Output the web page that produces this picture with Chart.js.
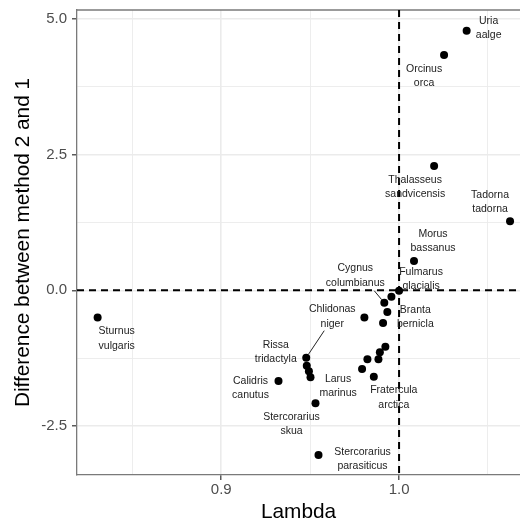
<!DOCTYPE html>
<html>
<head>
<meta charset="utf-8">
<title>Lambda vs difference between methods</title>
<script src="https://cdn.jsdelivr.net/npm/chart.js@4/dist/chart.umd.min.js"></script>
<style>
  html, body { margin: 0; padding: 0; background: #fff; }
  canvas { display: block; }
</style>
</head>
<body>
<canvas id="scatter" width="520" height="529"></canvas>
<script>
// Data ('' = point without a label)
var species = [
    'Uria aalge', 'Orcinus orca', 'Thalasseus sandvicensis', 'Tadorna tadorna',
    'Morus bassanus', 'Fulmarus glacialis', '', 'Cygnus columbianus',
    'Branta bernicla', '', '', '', '', '', '',
    'Larus marinus', 'Fratercula arctica', 'Chlidonas niger', 'Rissa tridactyla',
    '', '', 'Calidris canutus', 'Stercorarius skua', 'Sturnus vulgaris',
    'Stercorarius parasiticus'
];
var lambda = [
    1.038, 1.0253, 1.0197, 1.0624,
    1.0084, 1.0, 0.9957, 0.9917,
    0.9934, 0.9805, 0.991, 0.9923, 0.9892, 0.9822, 0.9884,
    0.9792, 0.9858, 0.9478, 0.9481,
    0.9493, 0.9502, 0.9322, 0.953, 0.8305,
    0.9547
];
var difference = [
    4.78, 4.33, 2.29, 1.27,
    0.54, -0.01, -0.12, -0.23,
    -0.40, -0.50, -0.60, -1.04, -1.14, -1.27, -1.27,
    -1.45, -1.59, -1.24, -1.39,
    -1.49, -1.60, -1.67, -2.08, -0.50,
    -3.03
];

// Axis ticks
var xTicks = [0.85, 0.9, 0.95, 1.0, 1.05];
var xMajor = [0.9, 1.0];
var yTicks = [-2.5, -1.25, 0, 1.25, 2.5, 3.75, 5.0];
var yMajor = [-2.5, 0, 2.5, 5.0];

// Reference lines
var refLambda = 1.0;
var refDiff = 0.0;

// Label placement (pixel offset of label centre from its point), and leader lines
var labelOffset = [
    [22, -2.5], [-20, 21], [-19, 21], [-20, -19.5],
    [19, -20], [22, -12], null, [-29, -27],
    [28, 5], null, null, null, null, null, null,
    [-24, 17], [20, 21], [26, -41], [-31, -14],
    null, null, [-28, 7], [-24, 21], [19, 21],
    [44, 4]
];
var leaderStart = { 7: [-10, -12], 17: [18, -27] };

function isIn(list, v) {
    for (var i = 0; i < list.length; i++) {
        if (Math.abs(list[i] - v) < 1e-6) return true;
    }
    return false;
}

var points = lambda.map(function (v, i) { return { x: v, y: difference[i] }; });

var overlay = {
    id: 'overlay',
    beforeDatasetsDraw: function (chart) {
        var ctx = chart.ctx, a = chart.chartArea;
        var px = chart.scales.x.getPixelForValue(refLambda);
        var py = chart.scales.y.getPixelForValue(refDiff);
        ctx.save();
        // top border of the panel
        ctx.strokeStyle = '#7a7a7a';
        ctx.lineWidth = 1.3;
        ctx.beginPath();
        ctx.moveTo(a.left, a.top);
        ctx.lineTo(a.right, a.top);
        ctx.stroke();
        // dashed reference lines
        ctx.strokeStyle = '#000';
        ctx.lineWidth = 2;
        ctx.setLineDash([7, 5]);
        ctx.beginPath();
        ctx.moveTo(a.left, py);
        ctx.lineTo(a.right, py);
        ctx.moveTo(px, a.top);
        ctx.lineTo(px, a.bottom);
        ctx.stroke();
        ctx.restore();
    },
    afterDatasetsDraw: function (chart) {
        var ctx = chart.ctx;
        var meta = chart.getDatasetMeta(0);
        ctx.save();
        ctx.fillStyle = '#222';
        ctx.strokeStyle = '#222';
        ctx.lineWidth = 1;
        ctx.font = '10.5px "Liberation Sans", Arial, sans-serif';
        ctx.textAlign = 'center';
        ctx.textBaseline = 'middle';
        species.forEach(function (name, i) {
            if (!name || !labelOffset[i]) return;
            var el = meta.data[i];
            var cx = el.x + labelOffset[i][0];
            var cy = el.y + labelOffset[i][1];
            var words = name.split(' ');
            ctx.fillText(words[0], cx, cy - 7.2);
            ctx.fillText(words[1], cx, cy + 7.2);
            if (leaderStart[i]) {
                var sx = el.x + leaderStart[i][0], sy = el.y + leaderStart[i][1];
                var dx = el.x - sx, dy = el.y - sy;
                var len = Math.sqrt(dx * dx + dy * dy);
                ctx.beginPath();
                ctx.moveTo(sx, sy);
                ctx.lineTo(el.x - dx / len * 4, el.y - dy / len * 4);
                ctx.stroke();
            }
        });
        ctx.restore();
    }
};

var tickFont = { family: '"Liberation Sans", Arial, sans-serif', size: 15 };
var titleFont = { family: '"Liberation Sans", Arial, sans-serif', size: 20.8 };

var ctx = document.getElementById('scatter').getContext('2d');
var chart = new Chart(ctx, {
    type: 'scatter',
    data: {
        datasets: [{
            data: points,
            backgroundColor: '#000',
            borderWidth: 0,
            pointRadius: 4,
            pointHoverRadius: 4
        }]
    },
    plugins: [overlay],
    options: {
        responsive: false,
        animation: false,
        devicePixelRatio: 1,
        layout: { autoPadding: false, padding: { top: 10, right: 0, bottom: 0, left: 0 } },
        plugins: { legend: { display: false }, tooltip: { enabled: false } },
        scales: {
            x: {
                type: 'linear',
                min: 0.8189,
                max: 1.068,
                afterBuildTicks: function (scale) {
                    scale.ticks = xTicks.map(function (v) { return { value: v }; });
                },
                afterFit: function (scale) {
                    scale.height = 54;
                    scale.paddingLeft = 0;
                    scale.paddingRight = 0;
                },
                ticks: {
                    font: tickFont,
                    color: '#4d4d4d',
                    padding: 1,
                    maxRotation: 0,
                    autoSkip: false,
                    callback: function (v) { return isIn(xMajor, v) ? v.toFixed(1) : ''; }
                },
                grid: {
                    color: '#ebebeb',
                    lineWidth: function (c) { return c.tick && isIn(xMajor, c.tick.value) ? 1.6 : 0.9; },
                    tickColor: function (c) { return c.tick && isIn(xMajor, c.tick.value) ? '#333' : 'rgba(0,0,0,0)'; },
                    tickLength: 5,
                    tickWidth: 1.2
                },
                border: { color: '#7a7a7a', width: 1.3 },
                title: { display: true, text: 'Lambda', color: '#000', font: titleFont, padding: { top: 0, bottom: 4 } }
            },
            y: {
                type: 'linear',
                min: -3.40,
                max: 5.16,
                afterBuildTicks: function (scale) {
                    scale.ticks = yTicks.map(function (v) { return { value: v }; });
                },
                afterFit: function (scale) {
                    scale.width = 77;
                    scale.paddingTop = 0;
                    scale.paddingBottom = 0;
                },
                ticks: {
                    font: tickFont,
                    color: '#4d4d4d',
                    padding: 5,
                    autoSkip: false,
                    callback: function (v) { return isIn(yMajor, v) ? v.toFixed(1) : ''; }
                },
                grid: {
                    color: '#ebebeb',
                    lineWidth: function (c) { return c.tick && isIn(yMajor, c.tick.value) ? 1.6 : 0.9; },
                    tickColor: function (c) { return c.tick && isIn(yMajor, c.tick.value) ? '#333' : 'rgba(0,0,0,0)'; },
                    tickLength: 5,
                    tickWidth: 1.2
                },
                border: { color: '#7a7a7a', width: 1.3 },
                title: { display: true, text: 'Difference between method 2 and 1', color: '#000', font: titleFont, padding: { top: 11, bottom: 0 } }
            }
        }
    }
});
</script>
</body>
</html>
